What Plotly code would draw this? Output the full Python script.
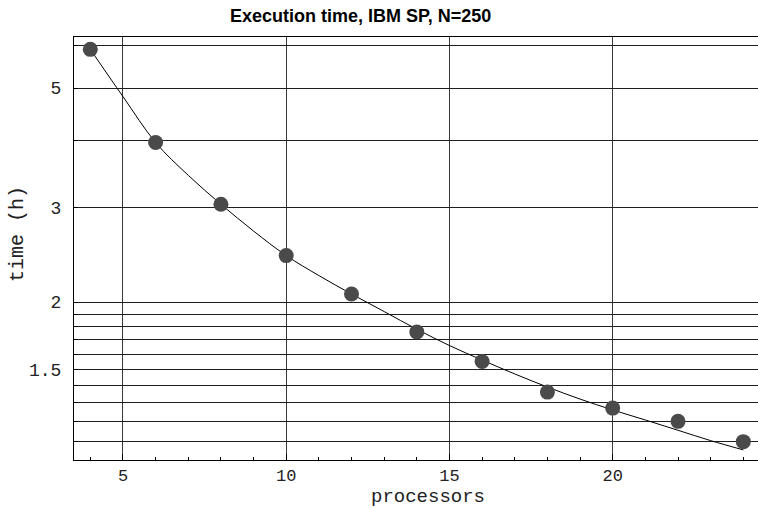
import plotly.graph_objects as go

# Measured run times (hours) vs. number of processors
processors = [4, 6, 8, 10, 12, 14, 16, 18, 20, 22, 24]
time_h = [5.90, 3.96, 3.04, 2.44, 2.07, 1.76, 1.55, 1.36, 1.27, 1.20, 1.10]

# Fitted curve sampled at integer processor counts
fit_p = [4, 5, 6, 7, 8, 9, 10, 11, 12, 13, 14, 15, 16, 17, 18, 19, 20, 21, 22, 23, 24]
fit_t = [5.90, 4.82, 3.96, 3.44, 3.04, 2.71, 2.44, 2.24, 2.07, 1.92, 1.78, 1.66,
         1.56, 1.47, 1.39, 1.32, 1.26, 1.207, 1.155, 1.105, 1.062]

x_ticks = [5, 10, 15, 20]
y_grid = [1.1, 1.2, 1.3, 1.4, 1.5, 1.6, 1.7, 1.8, 1.9, 2, 3, 4, 5, 6]
y_labels = {1.5: "1.5", 2: "2", 3: "3", 5: "5"}

W, H = 758, 508
L, R, T, B = 74, 0, 37, 48
mono = "Liberation Mono, Courier New, monospace"

fig = go.Figure()
fig.add_trace(go.Scatter(
    x=fit_p, y=fit_t, mode="lines", line=dict(color="black", width=1, shape="spline"),
    hoverinfo="skip", showlegend=False))
fig.add_trace(go.Scatter(
    x=processors, y=time_h, mode="markers",
    marker=dict(color="#4a4a4a", size=15, line=dict(width=0)), showlegend=False))

fig.update_layout(
    width=W, height=H,
    margin=dict(l=L, r=R, t=T, b=B, pad=0),
    paper_bgcolor="white", plot_bgcolor="white",
    font=dict(family=mono, size=18, color="#222"),
    xaxis=dict(
        range=[3.5, 24.45], tickmode="array", tickvals=x_ticks,
        ticks="inside", ticklen=6, tickcolor="black",
        tickfont=dict(size=17),
        showgrid=True, gridcolor="#3a3a3a", gridwidth=1,
        showline=True, linecolor="black", linewidth=1, mirror=True,
        zeroline=False, ticklabelstandoff=0,
        minor=dict(dtick=1, ticks="inside", ticklen=3, tickcolor="black", showgrid=False),
    ),
    yaxis=dict(
        type="log", range=[0.00732, 0.7938], tickmode="array",
        tickvals=y_grid, ticktext=[y_labels.get(v, "") for v in y_grid],
        ticks="inside", ticklen=4, tickcolor="black",
        showgrid=True, gridcolor="#1e1e1e", gridwidth=1,
        showline=True, linecolor="black", linewidth=1, mirror=False,
        zeroline=False, ticklabelstandoff=8,
    ),
)

def px(xp):
    return (xp - L) / (W - L - R)

def py(yp):
    return (H - B - yp) / (H - T - B)

fig.add_annotation(x=px(360), y=py(16), xref="paper", yref="paper",
                   xanchor="center", yanchor="middle",
                   text="<b>Execution time, IBM SP, N=250</b>", showarrow=False,
                   font=dict(family="Liberation Sans, Arial, sans-serif", size=18, color="black"))
fig.add_annotation(x=px(428), y=py(497), xref="paper", yref="paper",
                   xanchor="center", yanchor="middle",
                   text="processors", showarrow=False,
                   font=dict(family=mono, size=19, color="#222"))
fig.add_annotation(x=px(17), y=py(234), xref="paper", yref="paper",
                   xanchor="center", yanchor="middle",
                   text="time (h)", showarrow=False, textangle=-90,
                   font=dict(family=mono, size=20, color="#222"))

fig.write_html("out.html")
